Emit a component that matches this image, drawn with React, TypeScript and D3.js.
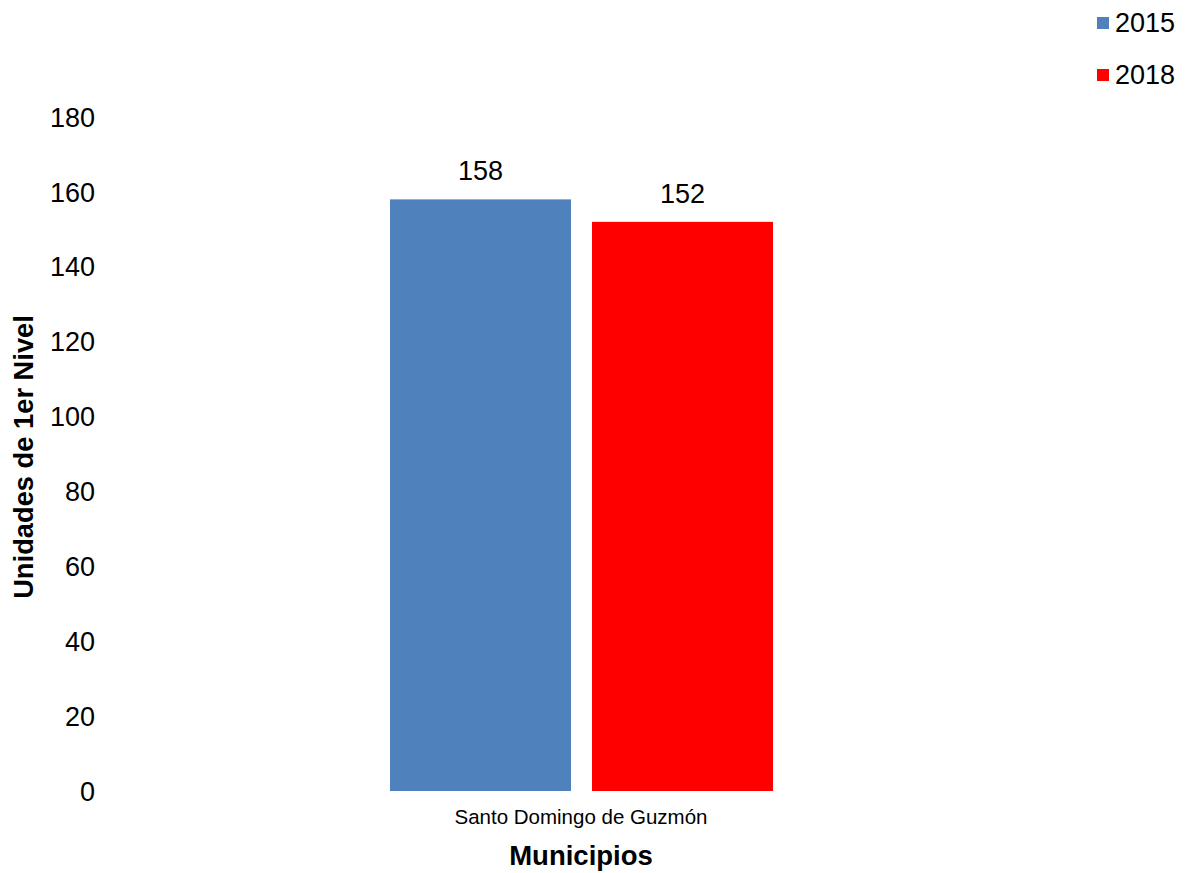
import React from "react";
import * as d3 from "d3";

const categories = ["Santo Domingo de Guzmón"];
const seriesNames = ["2015", "2018"];
const values2015 = [158];
const values2018 = [152];
const yTicks = [0, 20, 40, 60, 80, 100, 120, 140, 160, 180];
const colors = ["#4F81BD", "#FF0000"];

export default function App() {
  const W = 1187, H = 873;
  const y = d3.scaleLinear().domain([0, 180]).range([791, 117]);
  const x0 = d3.scaleBand().domain(categories).range([180, 982]).paddingInner(0).paddingOuter(0);
  const x1 = d3.scaleBand().domain(seriesNames).range([390 - 180, 773 - 180 + 0]).paddingInner(0.104);
  const series = [values2015, values2018];
  const font = "Arial, 'Liberation Sans', Helvetica, sans-serif";
  return (
    <svg width={W} height={H} style={{ position: "absolute", left: 0, top: 0, background: "#fff" }} fontFamily={font}>
      {yTicks.map((t) => (
        <text key={t} x={95} y={y(t)} dy="0.36em" textAnchor="end" fontSize={27} fill="#000">{t}</text>
      ))}
      {categories.map((c, ci) => (
        <g key={c} transform={`translate(${x0(c)},0)`}>
          {seriesNames.map((s, si) => {
            const v = series[si][ci];
            const bx = x1(s)!;
            return (
              <g key={s}>
                <rect x={bx} y={y(v)} width={x1.bandwidth()} height={y(0) - y(v)} fill={colors[si]} />
                <text x={bx + x1.bandwidth() / 2} y={y(v) - 19} textAnchor="middle" fontSize={27} fill="#000">{v}</text>
              </g>
            );
          })}
          <text x={x0.bandwidth() / 2} y={824} textAnchor="middle" fontSize={20.5} fill="#000">{c}</text>
        </g>
      ))}
      <text x={581} y={865} textAnchor="middle" fontSize={27.5} fontWeight="bold" fill="#000">Municipios</text>
      <text transform="translate(33,457) rotate(-90)" textAnchor="middle" fontSize={27.3} fontWeight="bold" fill="#000">Unidades de 1er Nivel</text>
      {seriesNames.map((s, i) => (
        <g key={s} transform={`translate(0,${i * 52})`}>
          <rect x={1097} y={17} width={12} height={12} fill={colors[i]} />
          <text x={1115} y={22} dy="0.36em" fontSize={27} fill="#000">{s}</text>
        </g>
      ))}
    </svg>
  );
}
